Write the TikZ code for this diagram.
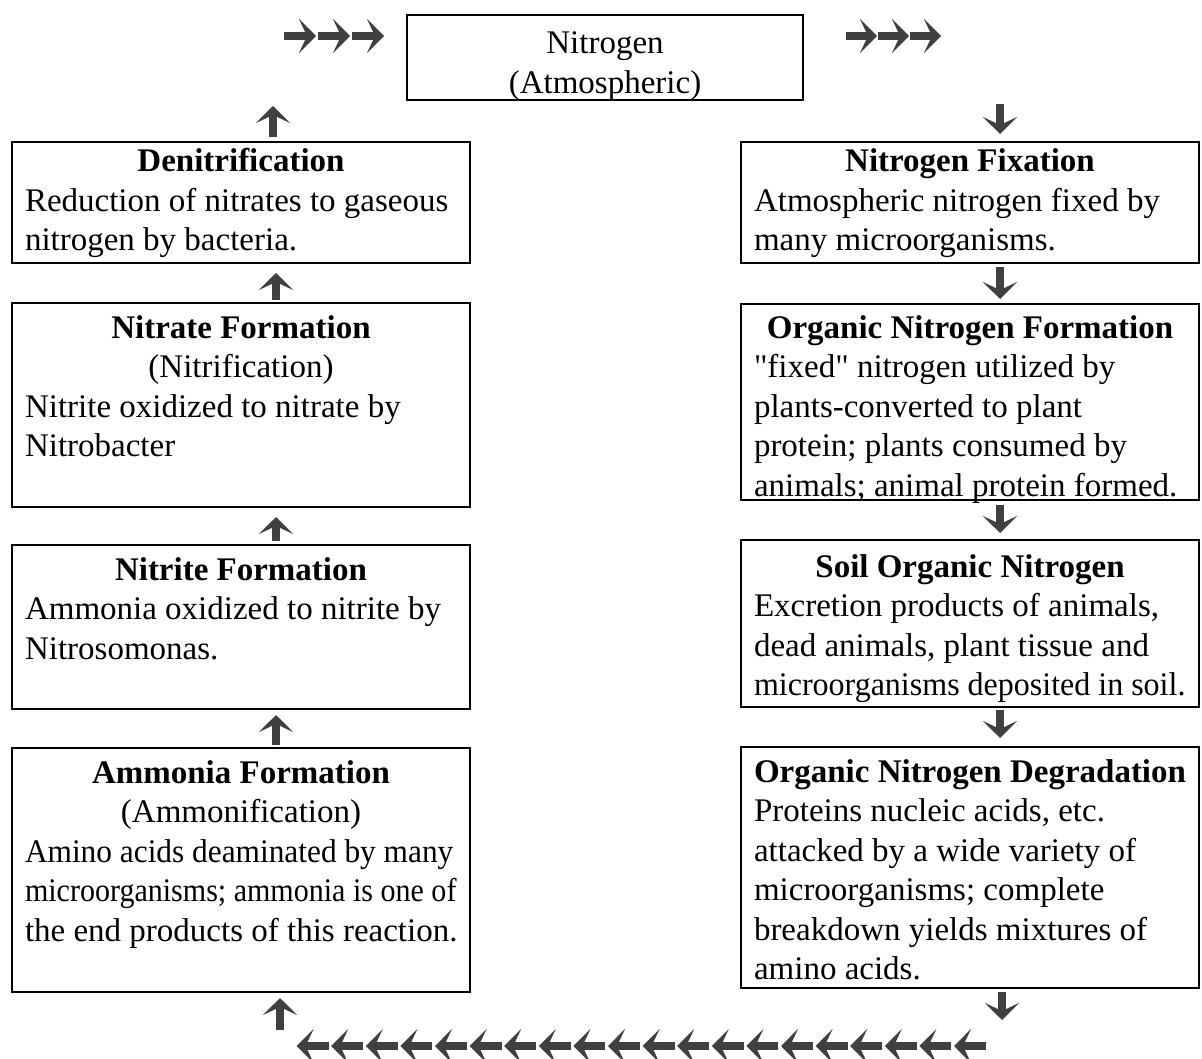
\documentclass[tikz,border=0pt]{standalone}
\usepackage{fontspec}
\setmainfont{Liberation Serif}
\usepackage{graphicx}
\usetikzlibrary{arrows.meta}

\newcommand{\cyclefont}{\fontsize{33}{39.5}\selectfont}
\newcommand{\boxhead}[1]{{\centering\bfseries #1\par}}
\newcommand{\boxsub}[1]{{\centering #1\par}}

\begin{document}
\begin{tikzpicture}[x=1pt,y=-1pt]
\tikzset{
  cyclebox/.style={draw,line width=1.6pt,anchor=north west,align=flush left,
    text width=432pt,inner xsep=13pt,inner ysep=0pt,outer sep=0pt,
    text height=35pt,text depth=#1,font=\cyclefont},
  fatarrow/.style={line width=8pt,draw=black!75,
    -{Stealth[length=17pt,width=34pt,inset=8pt]}}
}
\useasboundingbox (0,0) rectangle (1202,1059);

% top box
\node[cyclebox=46pt,text height=39pt,text width=370pt,align=center] (atmo) at (407,15)
  {Nitrogen\\(Atmospheric)};

% left column
\node[cyclebox=91pt,text height=30pt] (deni) at (12,142)
  {\boxhead{Denitrification}\mbox{Reduction of nitrates to gaseous}\\nitrogen by bacteria.};
\node[cyclebox=169pt] (nitrate) at (12,303)
  {\boxhead{Nitrate Formation}\boxsub{(Nitrification)}Nitrite oxidized to nitrate by\\Nitrobacter};
\node[cyclebox=129pt] (nitrite) at (12,545)
  {\boxhead{Nitrite Formation}Ammonia oxidized to nitrite by\\Nitrosomonas.};
\node[cyclebox=209pt] (ammonia) at (12,748)
  {\boxhead{Ammonia Formation}\boxsub{(Ammonification)}\scalebox{0.95}[1]{Amino acids deaminated by many}\\
   \scalebox{0.91}[1]{microorganisms; ammonia is one of}\\\mbox{the end products of this reaction.}};

% right column
\node[cyclebox=91pt,text height=30pt] (fix) at (741,142)
  {\boxhead{Nitrogen Fixation}Atmospheric nitrogen fixed by\\many microorganisms.};
\node[cyclebox=162pt,text height=34pt] (orgform) at (741,304)
  {\boxhead{Organic Nitrogen Formation}\textquotedbl fixed\textquotedbl{} nitrogen utilized by\\
   plants-converted to plant\\protein; plants consumed by\\\mbox{animals; animal protein formed.}};
\node[cyclebox=130pt,text height=37pt] (soil) at (741,540)
  {\boxhead{Soil Organic Nitrogen}Excretion products of animals,\\dead animals, plant tissue and\\
   \scalebox{0.97}[1]{microorganisms deposited in soil.}};
\node[cyclebox=206pt] (degr) at (741,747)
  {\boxhead{\mbox{Organic Nitrogen Degradation}}Proteins nucleic acids, etc.\\attacked by a wide variety of\\
   microorganisms; complete\\breakdown yields mixtures of\\amino acids.};

% free ends
\coordinate (lefttop) at (273,106);
\coordinate (righttop) at (1000,104);
\coordinate (leftbot) at (280,1030);
\coordinate (rightbot) at (1002,1020);

% upward on the left
\draw[fatarrow,shorten <=5pt] (deni.north -| lefttop) -- (lefttop);
\draw[fatarrow,shorten <=3pt,shorten >=10pt] ([xshift=35pt]nitrate.north) -- ([xshift=35pt]deni.south);
\draw[fatarrow,shorten <=4pt,shorten >=10pt] ([xshift=35pt]nitrite.north) -- ([xshift=35pt]nitrate.south);
\draw[fatarrow,shorten <=3pt,shorten >=6pt] ([xshift=35pt]ammonia.north) -- ([xshift=35pt]nitrite.south);
\draw[fatarrow,shorten >=6pt] (leftbot) -- (leftbot |- ammonia.south);

% downward on the right
\draw[fatarrow,shorten >=8pt] (righttop) -- (righttop |- fix.north);
\draw[fatarrow,shorten <=4pt,shorten >=5pt] ([xshift=30pt]fix.south) -- ([xshift=30pt]orgform.north);
\draw[fatarrow,shorten <=5pt,shorten >=7pt] ([xshift=30pt]orgform.south) -- ([xshift=30pt]soil.north);
\draw[fatarrow,shorten <=3pt,shorten >=9pt] ([xshift=30pt]soil.south) -- ([xshift=30pt]degr.north);
\draw[fatarrow,shorten <=4pt] (rightbot |- degr.south) -- (rightbot);

% rows of arrows
\foreach \i in {0,1,2} {
  \draw[fatarrow] ({284+\i*34},36) -- +(32,0);
  \draw[fatarrow] ({846+\i*32},36) -- +(31,0);
}
\foreach \i in {0,...,19}
  \draw[fatarrow] ({986-\i*34.6},1046) -- +(-32,0);
\end{tikzpicture}
\end{document}
